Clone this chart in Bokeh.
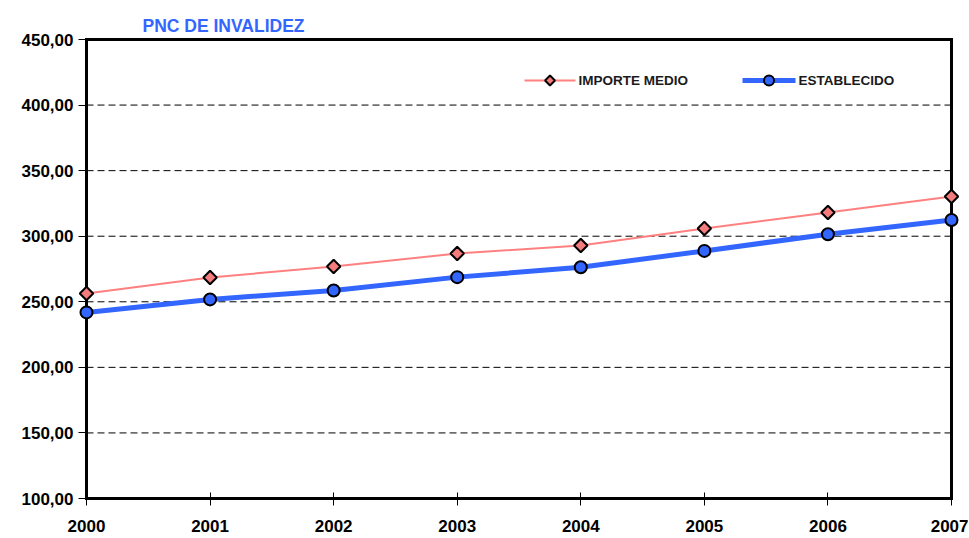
from bokeh.plotting import figure
from bokeh.models import Range1d, FixedTicker, Title
from bokeh.core.properties import value
from bokeh.embed import file_html
from bokeh.resources import INLINE

# ---- data ----
years = [2000, 2001, 2002, 2003, 2004, 2005, 2006, 2007]
importe_medio = [256.3, 268.5, 276.9, 286.8, 292.9, 305.9, 318.1, 330.3]
establecido = [241.9, 251.8, 258.6, 268.8, 276.3, 288.8, 301.5, 312.4]
y_ticks = [100, 150, 200, 250, 300, 350, 400, 450]
title_text = "PNC DE INVALIDEZ"
series_names = ["IMPORTE MEDIO", "ESTABLECIDO"]

FONT = "Liberation Sans"
PINK_LINE, PINK_FILL, BLUE = "#FF8080", "#F47C7C", "#3366FF"

# ---- geometry (pixels) ----
W, H = 968, 538
box_left, box_right, box_top, box_bottom = 86, 951, 39, 498
pad_x, pad_top, pad_bottom = 8.0, 2.0, 7.0

box_w = box_right - box_left
box_h = box_bottom - box_top
x_span = years[-1] - years[0]
y_span = y_ticks[-1] - y_ticks[0]
px_x = box_w / x_span
px_y = box_h / y_span


def dx(px):   # page pixel -> data x
    return years[0] + (px - box_left) / px_x


def dy(py):   # page pixel -> data y
    return y_ticks[-1] - (py - box_top) / px_y


mbl = int(box_left - pad_x)
mbr = int(W - box_right - pad_x)
mbt = int(box_top - pad_top)
mbb = int(H - box_bottom - pad_bottom)

p = figure(width=W, height=H, output_backend="svg", toolbar_location=None,
           x_range=Range1d(dx(box_left - pad_x), dx(box_right + pad_x)),
           y_range=Range1d(dy(box_bottom + pad_bottom), dy(box_top - pad_top)),
           min_border_left=mbl, min_border_right=mbr,
           min_border_top=mbt, min_border_bottom=mbb)
p.outline_line_color = None
p.xgrid.visible = False
p.ygrid.visible = False
p.background_fill_color = "white"
p.border_fill_color = "white"

# grid lines (dashed) inside the box
p.segment(x0=[years[0]] * len(y_ticks), x1=[years[-1]] * len(y_ticks),
          y0=y_ticks, y1=y_ticks, line_color="black", line_width=1,
          line_dash="7 4")

# box
bx0 = [years[0], years[0], years[0], years[-1]]
bx1 = [years[-1], years[-1], years[0], years[-1]]
by0 = [y_ticks[0], y_ticks[-1], y_ticks[0], y_ticks[0]]
by1 = [y_ticks[0], y_ticks[-1], y_ticks[-1], y_ticks[-1]]
p.segment(x0=bx0, x1=bx1, y0=by0, y1=by1, line_color="black",
          line_width=3, line_cap="square")

# series
p.line(years, importe_medio, line_color=PINK_LINE, line_width=2)
p.scatter(years, importe_medio, marker="square", angle=0.785398,
          size=9.5, fill_color=PINK_FILL, line_color="black", line_width=2)
p.line(years, establecido, line_color=BLUE, line_width=5)
p.scatter(years, establecido, marker="circle", size=12,
          fill_color=BLUE, line_color="black", line_width=2)

# legend (drawn with glyphs, positioned in pixels)
leg_y = dy(80)
p.line([dx(524), dx(575)], [leg_y, leg_y], line_color=PINK_LINE, line_width=2)
p.scatter([dx(549.5)], [leg_y], marker="square", angle=0.785398, size=7,
          fill_color=PINK_FILL, line_color="black", line_width=2)
p.line([dx(742), dx(795)], [leg_y, leg_y], line_color=BLUE, line_width=5)
p.scatter([dx(768.5)], [leg_y], marker="circle", size=10,
          fill_color=BLUE, line_color="black", line_width=2)
p.text(x=[dx(578), dx(798)], y=[leg_y, leg_y], text=series_names,
       text_font=value(FONT), text_font_style="bold",
       text_font_size="13.5px", text_color="#1a1a1a",
       text_baseline="middle", text_align="left")

# axes
p.xaxis.ticker = FixedTicker(ticks=years)
p.yaxis.ticker = FixedTicker(ticks=y_ticks)
p.yaxis.major_label_overrides = {t: f"{t:.2f}".replace(".", ",") for t in y_ticks}
p.xaxis.major_label_overrides = {t: str(t) for t in years}
for ax in (p.xaxis[0], p.yaxis[0]):
    ax.axis_line_color = None
    ax.minor_tick_line_color = None
    ax.major_tick_line_color = "black"
    ax.major_tick_line_width = 1
    ax.major_tick_out = 0
    ax.major_label_text_font = FONT
    ax.major_label_text_font_style = "bold"
    ax.major_label_text_font_size = "17px"
    ax.major_label_text_color = "black"
p.yaxis.major_tick_in = int(pad_x)
p.yaxis.major_label_standoff = 5
p.xaxis.major_tick_in = int(pad_bottom + 6)
p.xaxis.major_label_standoff = 14

# title
p.title = Title(text=title_text, align="left", offset=64, standoff=4,
                text_font=FONT, text_font_style="bold",
                text_font_size="17.5px", text_color=BLUE,
                vertical_align="bottom")

open("out.html", "w").write(file_html(p, INLINE))
